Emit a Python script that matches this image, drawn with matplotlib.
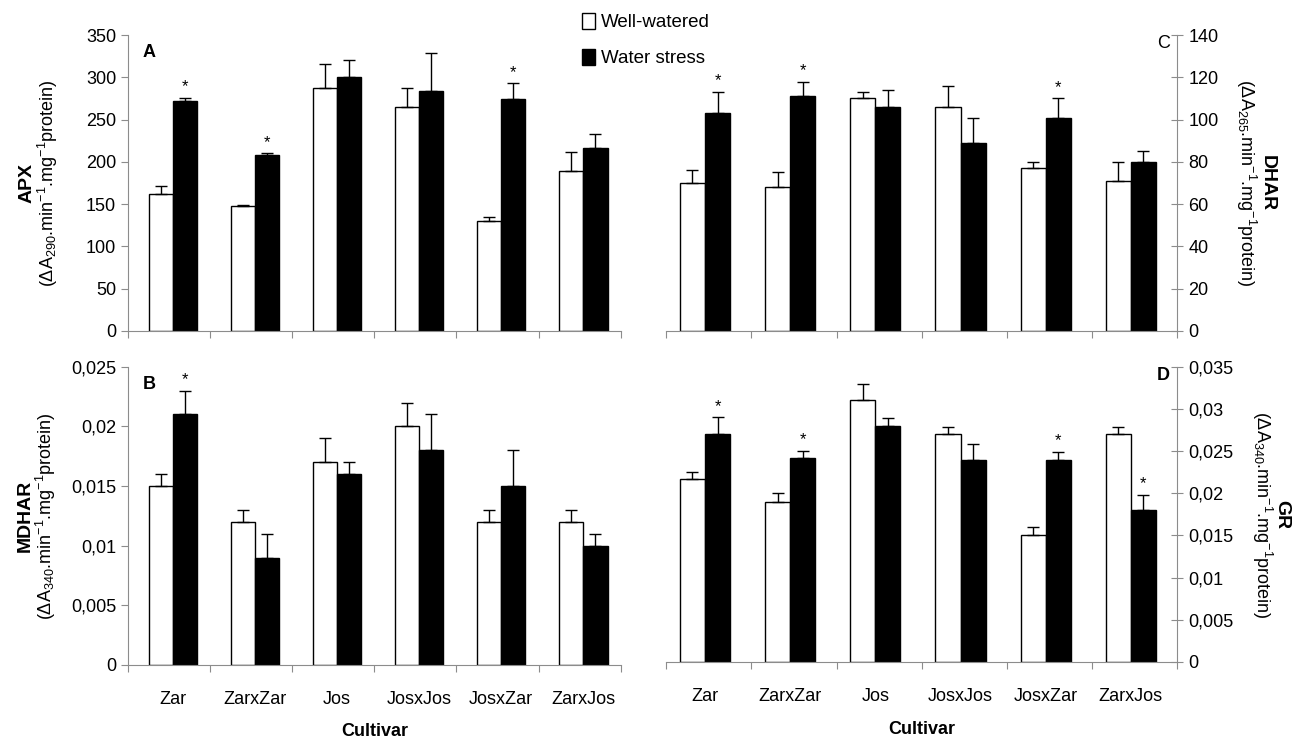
import numpy as np
import matplotlib
matplotlib.use('Agg')
import matplotlib.pyplot as plt
from matplotlib.patches import Patch

plt.rcParams['font.family'] = ['Liberation Sans', 'DejaVu Sans']
plt.rcParams['mathtext.fontset'] = 'custom'
plt.rcParams['mathtext.rm'] = 'Liberation Sans'
plt.rcParams['mathtext.it'] = 'Liberation Sans'

cultivars = ['Zar', 'ZarxZar', 'Jos', 'JosxJos', 'JosxZar', 'ZarxJos']

# APX
apx_ww = [162, 148, 288, 265, 130, 189]
apx_ww_err = [10, 1, 28, 22, 5, 23]
apx_ws = [272, 208, 300, 284, 274, 217]
apx_ws_err = [4, 2, 21, 45, 19, 16]
apx_star = [True, True, False, False, True, False]

# MDHAR
mdhar_ww = [0.015, 0.012, 0.017, 0.020, 0.012, 0.012]
mdhar_ww_err = [0.001, 0.001, 0.002, 0.002, 0.001, 0.001]
mdhar_ws = [0.021, 0.009, 0.016, 0.018, 0.015, 0.010]
mdhar_ws_err = [0.002, 0.002, 0.001, 0.003, 0.003, 0.001]
mdhar_star = [True, False, False, False, False, False]

# DHAR
dhar_ww = [70, 68, 110, 106, 77, 71]
dhar_ww_err = [6, 7, 3, 10, 3, 9]
dhar_ws = [103, 111, 106, 89, 101, 80]
dhar_ws_err = [10, 7, 8, 12, 9, 5]
dhar_star = [True, True, False, False, True, False]

# GR
gr_ww = [0.0217, 0.019, 0.031, 0.027, 0.015, 0.027]
gr_ww_err = [0.0008, 0.001, 0.002, 0.0008, 0.001, 0.0008]
gr_ws = [0.027, 0.0242, 0.028, 0.024, 0.024, 0.018]
gr_ws_err = [0.002, 0.0008, 0.0009, 0.0018, 0.0009, 0.0018]
gr_star = [True, True, False, False, True, True]

fig = plt.figure(figsize=(13.14, 7.47), dpi=100)

axA = fig.add_axes([0.0974, 0.557, 0.375, 0.396])
axB = fig.add_axes([0.0974, 0.110, 0.375, 0.399])
axC = fig.add_axes([0.507, 0.557, 0.389, 0.396])
axD = fig.add_axes([0.507, 0.114, 0.389, 0.395])

FS = 13
spine_col = '#8c8c8c'


def panel(ax, ww, ww_err, ws, ws_err, stars, ymax, step, offset, right, fmt):
    x = np.arange(len(cultivars))
    w = 0.295
    xw = x + offset + w / 2
    xs = x + offset + 1.5 * w
    ax.bar(xw, ww, w, color='white', edgecolor='black', linewidth=1.0, zorder=2)
    ax.bar(xs, ws, w, color='black', edgecolor='black', linewidth=1.0, zorder=2)
    ax.errorbar(xw, ww, yerr=[np.zeros(len(ww)), ww_err], fmt='none',
                ecolor='black', elinewidth=1.0, capsize=4, capthick=1.0, zorder=3)
    ax.errorbar(xs, ws, yerr=[np.zeros(len(ws)), ws_err], fmt='none',
                ecolor='black', elinewidth=1.0, capsize=4, capthick=1.0, zorder=3)
    for i in range(len(ws)):
        if stars[i]:
            ax.text(xs[i], ws[i] + ws_err[i] + ymax * 0.012, '*', ha='center',
                    va='bottom', fontsize=12)
    ax.set_xlim(0, len(cultivars))
    ax.set_ylim(0, ymax)
    ticks = np.arange(0, ymax + step / 2, step)
    ax.set_yticks(ticks)
    ax.set_yticklabels([fmt(v) for v in ticks])
    ax.set_xticks(np.arange(0, len(cultivars) + 1))
    ax.set_xticklabels([])
    # category labels sit where the two bars of a group meet
    ax.set_xticks(x + offset + w, minor=True)
    ax.tick_params(axis='x', which='major', length=5, color=spine_col)
    ax.tick_params(axis='x', which='minor', length=0, labelsize=FS, pad=19)
    ax.spines['top'].set_visible(False)
    for s in ['left', 'right', 'bottom']:
        ax.spines[s].set_color(spine_col)
    if right:
        ax.spines['left'].set_visible(False)
        ax.yaxis.tick_right()
        ax.tick_params(axis='y', direction='inout', length=8, color=spine_col,
                       labelsize=FS, pad=4)
    else:
        ax.spines['right'].set_visible(False)
        ax.tick_params(axis='y', length=5, color=spine_col, labelsize=FS)


def comma(v, nd):
    if v == 0:
        return '0'
    return ('%.*f' % (nd, v)).rstrip('0').replace('.', ',')


panel(axA, apx_ww, apx_ww_err, apx_ws, apx_ws_err, apx_star, 350, 50, 0.25, False,
      lambda v: '%d' % v)
panel(axB, mdhar_ww, mdhar_ww_err, mdhar_ws, mdhar_ws_err, mdhar_star, 0.025, 0.005,
      0.25, False, lambda v: comma(v, 3))
panel(axC, dhar_ww, dhar_ww_err, dhar_ws, dhar_ws_err, dhar_star, 140, 20, 0.16, True,
      lambda v: '%d' % v)
panel(axD, gr_ww, gr_ww_err, gr_ws, gr_ws_err, gr_star, 0.035, 0.005, 0.16, True,
      lambda v: comma(v, 3))

for ax in (axB, axD):
    ax.set_xticklabels(cultivars, minor=True)
    ax.set_xlabel('Cultivar', fontsize=FS, fontweight='bold', labelpad=11)

# panel letters
axA.text(0.03, 0.97, 'A', transform=axA.transAxes, fontsize=FS, fontweight='bold', va='top')
axB.text(0.03, 0.97, 'B', transform=axB.transAxes, fontsize=FS, fontweight='bold', va='top')
axC.text(0.985, 1.0, 'C', transform=axC.transAxes, fontsize=FS, ha='right', va='top')
axD.text(0.985, 1.0, 'D', transform=axD.transAxes, fontsize=FS, fontweight='bold',
         ha='right', va='top')


# y-axis titles: enzyme name in bold, units beside it
def ylab(ax, name, wl, x_name, x_unit, rot):
    unit = r'($\Delta A_{%s}$.min$^{-1}$.mg$^{-1}$protein)' % wl
    ax.text(x_name, 0.5, name, transform=ax.transAxes, rotation=rot, fontsize=FS + 1,
            fontweight='bold', ha='center', va='center')
    ax.text(x_unit, 0.5, unit, transform=ax.transAxes, rotation=rot, fontsize=FS,
            ha='center', va='center')


ylab(axA, 'APX', '290', -0.205, -0.163, 90)
ylab(axB, 'MDHAR', '340', -0.208, -0.166, 90)
ylab(axC, 'DHAR', '265', 1.175, 1.135, 270)
ylab(axD, 'GR', '340', 1.205, 1.165, 270)

handles = [Patch(facecolor='white', edgecolor='black', label='Well-watered'),
           Patch(facecolor='black', edgecolor='black', label='Water stress')]
fig.legend(handles=handles, loc='upper left', bbox_to_anchor=(0.43, 1.005),
           frameon=False, fontsize=FS + 0.5, handlelength=0.7, handleheight=0.9,
           handletextpad=0.3, labelspacing=0.95)

fig.savefig('out.png', dpi=100)
